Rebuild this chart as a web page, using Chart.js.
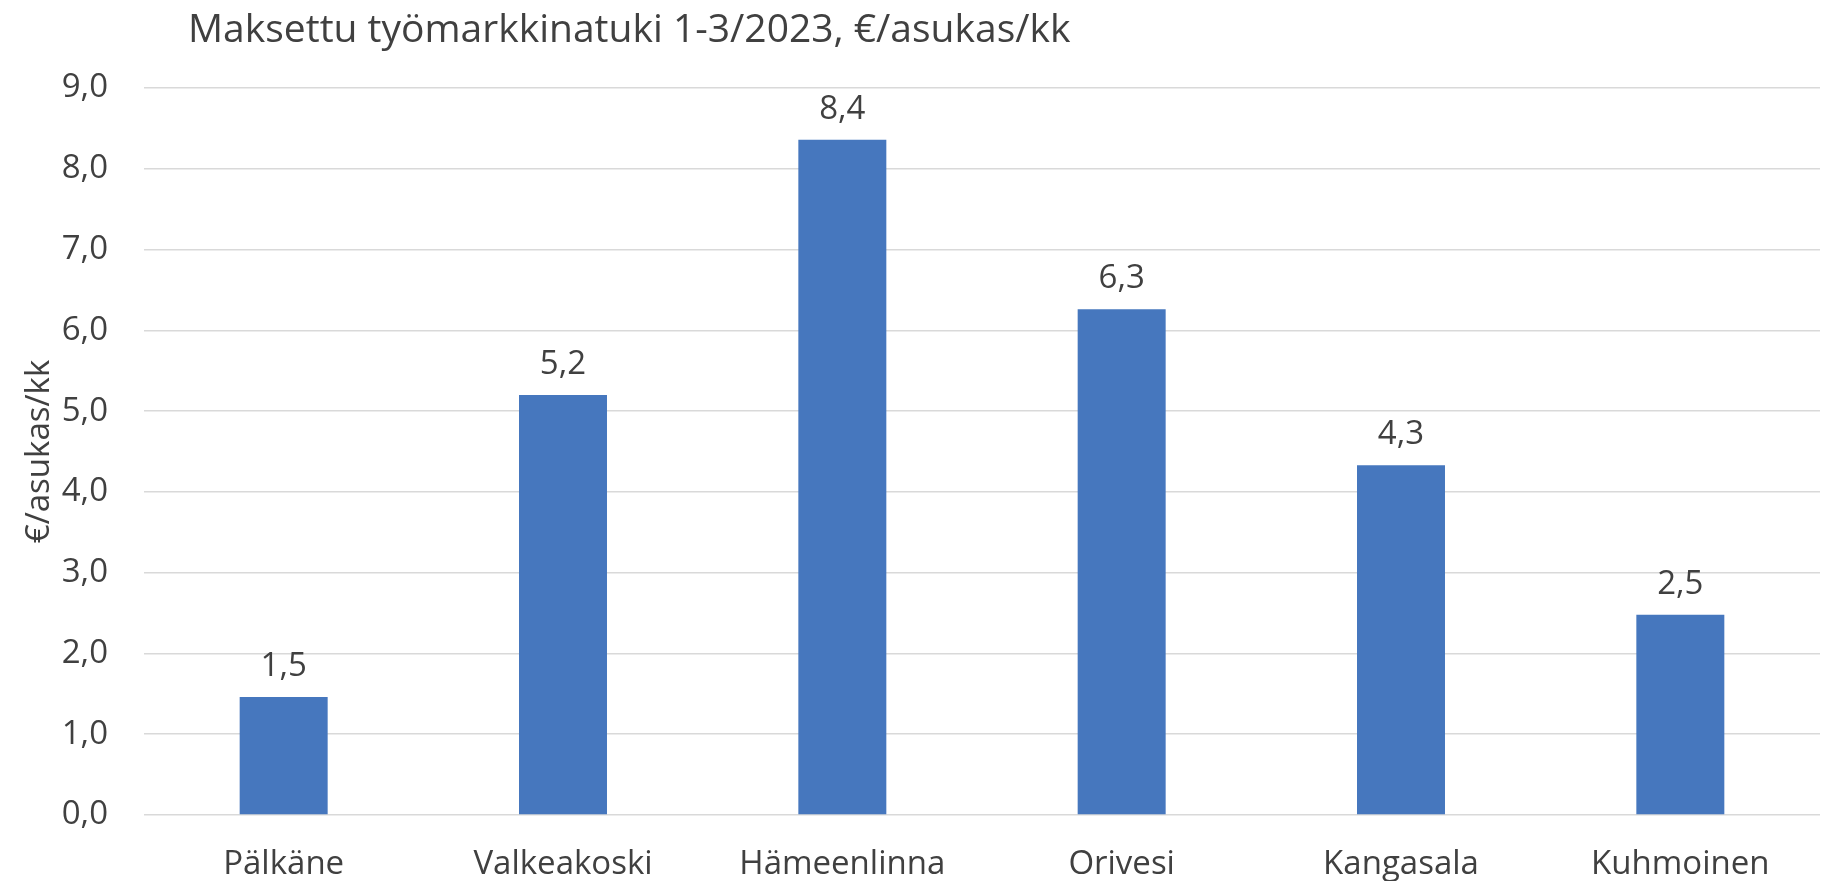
<!DOCTYPE html>
<html>
<head>
<meta charset="utf-8">
<script src="https://cdn.jsdelivr.net/npm/chart.js@4"></script>
<style>
  body { margin: 0; background: #fff; }
</style>
</head>
<body>
<canvas id="myChart" width="1823" height="881"></canvas>
<script>
const chartTitle = "Maksettu työmarkkinatuki 1-3/2023, €/asukas/kk";
const axisTitle = "€/asukas/kk";
const municipalities = ["Pälkäne", "Valkeakoski", "Hämeenlinna", "Orivesi", "Kangasala", "Kuhmoinen"];
const perResident = [1.46, 5.2, 8.36, 6.26, 4.33, 2.48];
const yTicks = [0, 1, 2, 3, 4, 5, 6, 7, 8, 9];

const textColor = '#404040';
const fontName = '"Open Sans", sans-serif';

function fmt(v) {
    return v.toFixed(1).replace('.', ',');
}

// title + value labels, chart.js has no datalabels built in
const labelPlugin = {
    id: 'labels',
    afterDraw(chart) {
        const ctx = chart.ctx;
        ctx.save();
        ctx.fillStyle = textColor;
        ctx.font = '39px ' + fontName;
        ctx.textAlign = 'left';
        ctx.textBaseline = 'alphabetic';
        ctx.fillText(chartTitle, 188, 42);

        ctx.font = '33px ' + fontName;
        ctx.textAlign = 'center';
        const meta = chart.getDatasetMeta(0);
        meta.data.forEach((bar, i) => {
            ctx.fillText(fmt(perResident[i]), bar.x, bar.y - 21);
        });
        ctx.restore();
    }
};

const ctx = document.getElementById('myChart').getContext('2d');
const myChart = new Chart(ctx, {
    type: 'bar',
    data: {
        labels: municipalities,
        datasets: [{
            data: perResident,
            backgroundColor: '#4677be',
            barPercentage: 0.315,
            categoryPercentage: 1
        }]
    },
    options: {
        responsive: false,
        animation: false,
        layout: {
            padding: { top: 88, right: 3, left: 0, bottom: 0 }
        },
        plugins: {
            legend: { display: false },
            tooltip: { enabled: false }
        },
        scales: {
            x: {
                grid: { display: false, drawTicks: false },
                border: { display: false },
                ticks: {
                    color: textColor,
                    font: { family: fontName, size: 33 },
                    padding: 30,
                    maxRotation: 0
                },
                afterFit: (s) => { s.height = 66; }
            },
            y: {
                min: 0,
                max: 9,
                afterBuildTicks: (s) => { s.ticks = yTicks.map(v => ({ value: v })); },
                grid: { color: '#d9d9d9', lineWidth: 1.5, drawTicks: false },
                border: { display: false },
                ticks: {
                    color: textColor,
                    font: { family: fontName, size: 33 },
                    padding: 36,
                    callback: (v) => fmt(v)
                },
                title: {
                    display: true,
                    text: axisTitle,
                    color: textColor,
                    font: { family: fontName, size: 33 },
                    padding: { top: 20, bottom: 0 }
                },
                afterFit: (s) => { s.width = 144; }
            }
        }
    },
    plugins: [labelPlugin]
});
</script>
</body>
</html>
